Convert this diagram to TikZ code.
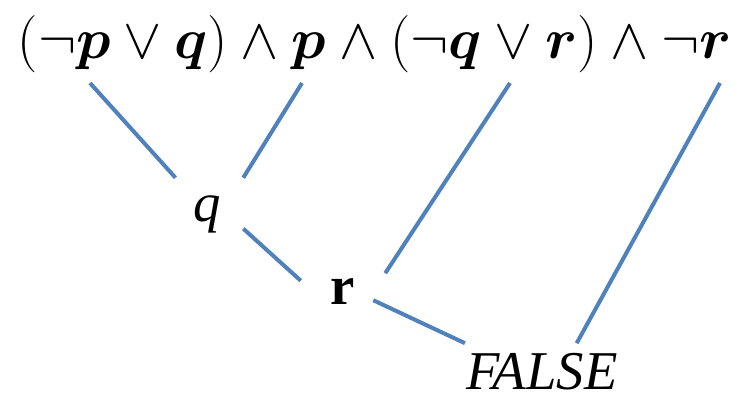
\RequirePackage{fix-cm}
\documentclass[tikz,border=0pt]{standalone}
\usepackage{amsmath}
\usepackage{fontspec}
\setmainfont{Liberation Serif}
\usepackage{xcolor}
\usepackage{tikz}
\definecolor{EdgeBlue}{HTML}{4F81BD}

\begin{document}
\begin{tikzpicture}[x=0.75pt, y=-0.75pt,
    every node/.style={font=\fontsize{41}{48}\selectfont, inner sep=0pt},
    link/.style={EdgeBlue, line width=3pt}]
    \useasboundingbox (0,0) rectangle (754,394);
    \node[anchor=base, font=\fontsize{43}{50}\selectfont] (formula) at (375,58)
      {$(\neg\boldsymbol{p}\vee\boldsymbol{q})\wedge\boldsymbol{p}\wedge(\neg\boldsymbol{q}\vee\boldsymbol{r})\wedge\neg\boldsymbol{r}$};
    \foreach \name/\x in {top1/90, top2/302, top3/510, top4/720} {
      \coordinate (\name) at (\x, 83);
    }
    \node[minimum width=54pt, minimum height=54pt] (q) at (207,214) {\itshape q};
    \node[minimum width=63pt, minimum height=33pt] (r) at (343,292) {\bfseries r};
    \node[anchor=base] (false) at (542,389) {\itshape FALSE};
    \draw[link] (top1) -- (q.131);
    \draw[link] (top2) -- (q.45);
    \draw[link] (q.-22) -- (r.165);
    \draw[link] (top3) -- (r.24);
    \draw[link] ([xshift=-9pt]r.-11) -- ([xshift=-1pt, yshift=7pt]false.north west);
    \draw[link] (top4) -- ([xshift=26pt, yshift=7pt]false.north);
  \end{tikzpicture}
\end{document}
